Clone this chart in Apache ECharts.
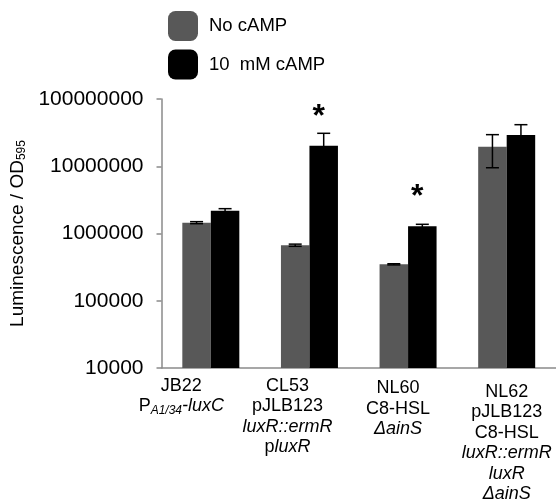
<!DOCTYPE html>
<html>
<head>
<meta charset="utf-8">
<script src="https://cdn.jsdelivr.net/npm/echarts@6/dist/echarts.min.js"></script>
<style>html,body{margin:0;padding:0;background:#fff;}#c{width:556px;height:502px;}</style>
</head>
<body>
<div id="c"></div>
<script>
// ---- data ----
const categories = ['JB22', 'CL53', 'NL60', 'NL62'];
const seriesNames = ['No cAMP', '10  mM cAMP'];
const noCampValues = [1.45e6, 6.7e5, 3.48e5, 1.95e7];
const campValues = [2.18e6, 2.02e7, 1.28e6, 2.92e7];
const noCampErr = [5e4, 2.5e4, 7e3, 1.0e7];
const campErr = [1.6e5, 1.07e7, 9e4, 1.23e7];
const sigMarks = ['', '*', '*', ''];
const sigLevels = [null, 7.1e7, 4.5e6, null];
const yMin = 1e4, yMax = 1e8;
const categoryLabels = [
  'JB22\nP{sub|A1/34}{it|-luxC}',
  'CL53\npJLB123\n{it|luxR::ermR}\np{it|luxR}',
  'NL60\nC8-HSL\n{it|ΔainS}',
  'NL62\npJLB123\nC8-HSL\n{it|luxR::ermR}\n{it|luxR}\n{it|ΔainS}'
];

// ---- style ----
const FONT = '"Liberation Sans", Arial, Helvetica, sans-serif';
const BAR_W = 28.5;
const AXIS_COLOR = '#8a8a8a';
const labelDx = [-29.5, -22, -10, 0];
const labelDy = [7.5, 7.5, 10, 13.5];

const chart = echarts.init(document.getElementById('c'));

function errData(vals, errs, si) {
  return vals.map((v, i) => [i, v - errs[i], v + errs[i], si]);
}

function renderErr(params, api) {
  const cat = api.value(0);
  const si = api.value(3);
  const hi = api.coord([cat, api.value(2)]);
  const lo = api.coord([cat, api.value(1)]);
  const x = hi[0] + (si === 0 ? -BAR_W / 2 : BAR_W / 2);
  const cap = 6.5;
  const st = { stroke: '#000', lineWidth: 1.5 };
  return {
    type: 'group',
    children: [
      { type: 'line', shape: { x1: x, y1: lo[1], x2: x, y2: hi[1] }, style: st },
      { type: 'line', shape: { x1: x - cap, y1: hi[1], x2: x + cap, y2: hi[1] }, style: st },
      { type: 'line', shape: { x1: x - cap, y1: lo[1], x2: x + cap, y2: lo[1] }, style: st }
    ]
  };
}

const sigData = [];
sigLevels.forEach((lv, i) => { if (lv != null) sigData.push([i, lv, sigMarks[i]]); });

chart.setOption({
  animation: false,
  textStyle: { fontFamily: FONT, color: '#000' },
  legend: {
    orient: 'vertical',
    left: 168, top: 11,
    padding: 0,
    itemWidth: 30, itemHeight: 30, itemGap: 8.5,
    icon: 'roundRect',
    data: seriesNames,
    textStyle: { fontSize: 18.5, color: '#000', fontFamily: FONT, padding: [0, 0, 0, 6] }
  },
  grid: { left: 155, top: 99, width: 404, height: 269, containLabel: false },
  xAxis: {
    type: 'category',
    data: categories,
    axisLine: { lineStyle: { color: AXIS_COLOR, width: 1.5 } },
    axisTick: { show: false },
    axisLabel: { show: false }
  },
  yAxis: {
    type: 'log',
    logBase: 10,
    min: yMin, max: yMax,
    name: 'Luminescence / OD{sub|595}',
    nameLocation: 'middle',
    nameGap: 119,
    nameRotate: 90,
    nameTextStyle: {
      fontSize: 19, color: '#000', fontFamily: FONT,
      rich: { sub: { fontSize: 12, verticalAlign: 'bottom', padding: [8, 0, 0, 0], fontFamily: FONT, color: '#000' } }
    },
    axisLine: { show: true, lineStyle: { color: AXIS_COLOR, width: 1.5 } },
    axisTick: { show: true, inside: false, length: 5, lineStyle: { color: AXIS_COLOR, width: 1.5 } },
    splitLine: { show: false },
    minorTick: { show: false },
    axisLabel: {
      fontSize: 21, color: '#000', margin: 18, fontFamily: FONT,
      formatter: v => String(Math.round(v))
    }
  },
  series: [
    {
      name: seriesNames[0], type: 'bar', data: noCampValues,
      barWidth: BAR_W, barGap: '0%',
      itemStyle: { color: '#585858' }
    },
    {
      name: seriesNames[1], type: 'bar', data: campValues,
      barWidth: BAR_W, barGap: '0%',
      itemStyle: { color: '#000' }
    },
    {
      type: 'custom', name: 'errNo', renderItem: renderErr,
      data: errData(noCampValues, noCampErr, 0), z: 5,
      encode: { x: 0, y: [1, 2] }
    },
    {
      type: 'custom', name: 'errCamp', renderItem: renderErr,
      data: errData(campValues, campErr, 1), z: 5,
      encode: { x: 0, y: [1, 2] }
    },
    {
      type: 'custom', name: 'sig', z: 6,
      data: sigData,
      encode: { x: 0, y: 1 },
      renderItem: function (params, api) {
        const p = api.coord([api.value(0), api.value(1)]);
        return {
          type: 'text',
          style: {
            text: sigMarks[api.value(0)],
            x: p[0] + BAR_W / 2 - 5, y: p[1] + 8,
            align: 'center', verticalAlign: 'middle',
            fontSize: 32, fontWeight: 'bold', fontFamily: FONT, fill: '#000'
          }
        };
      }
    }
  ]
});

const baseY = chart.convertToPixel({ yAxisIndex: 0 }, yMin);
chart.setOption({
  graphic: categoryLabels.map((txt, i) => {
    const cx = chart.convertToPixel({ xAxisIndex: 0 }, i);
    return {
      type: 'text',
      x: cx + labelDx[i],
      y: baseY + labelDy[i],
      style: {
        text: txt,
        align: 'center', verticalAlign: 'top',
        fontSize: 18, lineHeight: 20.5, fontFamily: FONT, fill: '#000',
        rich: {
          it: { fontStyle: 'italic', fontSize: 18, lineHeight: 20.5, fontFamily: FONT, fill: '#000' },
          sub: { fontStyle: 'italic', fontSize: 12, verticalAlign: 'bottom', lineHeight: 12, padding: [6, 0, 0, 0], fontFamily: FONT, fill: '#000' }
        }
      }
    };
  })
});
</script>
</body>
</html>
